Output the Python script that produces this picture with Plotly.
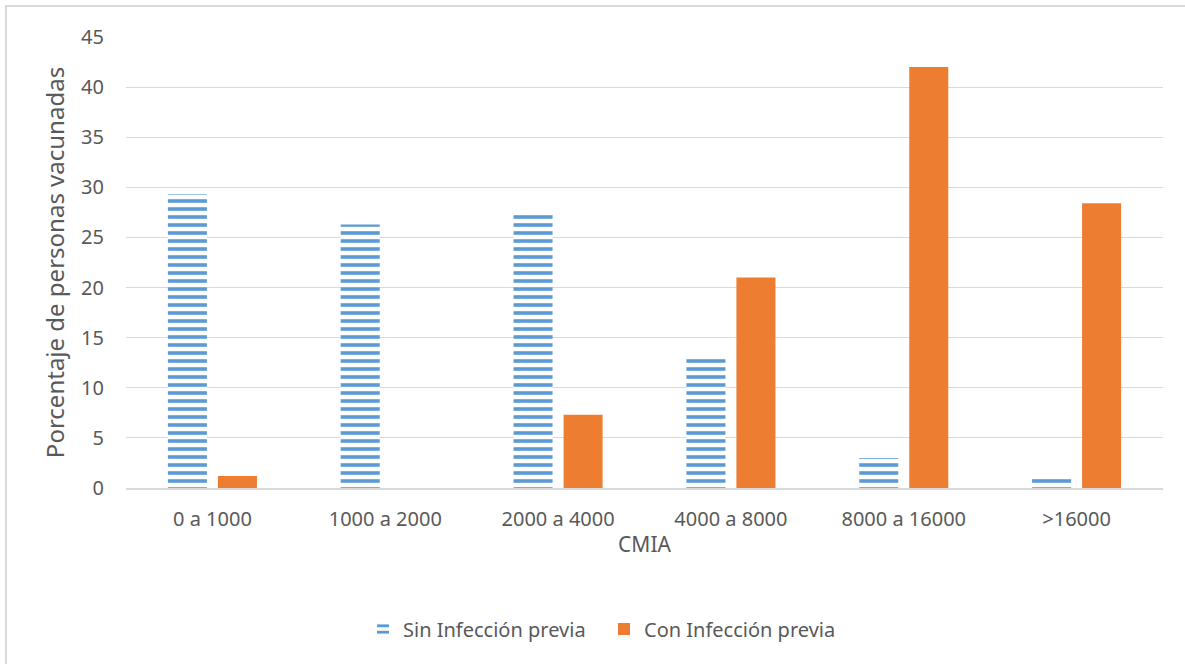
import plotly.graph_objects as go

# CMIA ranges and percentage of vaccinated people in each group
categorias = ["0 a 1000", "1000 a 2000", "2000 a 4000", "4000 a 8000", "8000 a 16000", ">16000"]
sin_infeccion = [29.3, 26.3, 27.4, 13.0, 3.0, 1.0]
con_infeccion = [1.2, 0.0, 7.3, 21.0, 42.0, 28.4]
ticks_y = [0, 5, 10, 15, 20, 25, 30, 35, 40, 45]

AZUL = "#5B9BD5"
NARANJA = "#ED7D31"
GRIS_TEXTO = "#595959"
GRIS_LINEA = "#D9D9D9"
FUENTE = "Noto Sans"

W, H = 1185, 664
L, R, T, B = 126, 22, 37, 176
pw, ph = W - L - R, H - T - B

fig = go.Figure()
fig.add_trace(go.Bar(
    x=categorias, y=sin_infeccion, name="Sin Infección previa",
    marker=dict(color=AZUL, line=dict(width=0),
                pattern=dict(shape="-", size=8, solidity=0.45,
                             fgcolor=AZUL, bgcolor="white", fillmode="replace")),
))
fig.add_trace(go.Bar(
    x=categorias, y=con_infeccion, name="Con Infección previa",
    marker=dict(color=NARANJA, line=dict(width=0)),
))

# outer chart frame
fig.add_shape(
    type="rect", xref="paper", yref="paper",
    x0=(6 - L) / pw, x1=(W + 10 - L) / pw,
    y0=-(H + 10 - T - ph) / ph, y1=1 + (T - 6) / ph,
    line=dict(color=GRIS_LINEA, width=2), fillcolor="rgba(0,0,0,0)", layer="below",
)

fig.update_layout(
    width=W, height=H,
    margin=dict(l=L, r=R, t=T, b=B, autoexpand=False),
    paper_bgcolor="white", plot_bgcolor="white",
    font=dict(family=FUENTE, size=20, color=GRIS_TEXTO),
    barmode="group", bargap=0.421, bargroupgap=0.22,
    showlegend=True,
    legend=dict(orientation="h", x=(604 - L) / pw, xanchor="center",
                y=-(629 - T - ph) / ph, yanchor="middle",
                font=dict(size=20, color=GRIS_TEXTO), itemwidth=30,
                entrywidth=196, entrywidthmode="pixels",
                traceorder="normal"),
    xaxis=dict(
        showgrid=False, showline=True, linecolor=GRIS_LINEA, linewidth=1.5,
        ticks="", ticklabelstandoff=12, tickfont=dict(size=20, color=GRIS_TEXTO),
        title=dict(text="CMIA", font=dict(size=21, color=GRIS_TEXTO), standoff=7),
    ),
    yaxis=dict(
        range=[0, 45], tickvals=ticks_y, showgrid=True, gridcolor=GRIS_LINEA,
        gridwidth=1.2, zeroline=False, showline=False, ticks="",
        ticklabelstandoff=21, tickfont=dict(size=20, color=GRIS_TEXTO),
        title=dict(text="Porcentaje de personas vacunadas",
                   font=dict(size=24, color=GRIS_TEXTO), standoff=9),
    ),
)

fig.write_html("out.html")
